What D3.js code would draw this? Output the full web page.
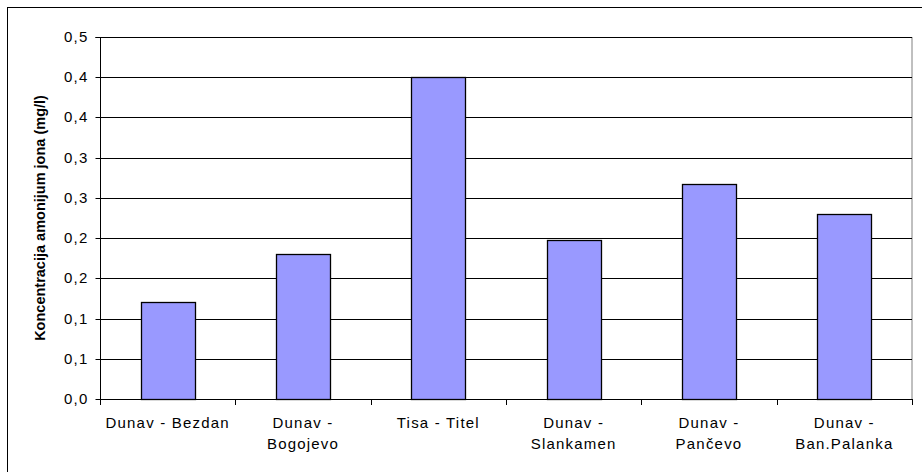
<!DOCTYPE html>
<html><head><meta charset="utf-8">
<script src="https://cdn.jsdelivr.net/npm/d3@7"></script>
<style>html,body{margin:0;padding:0;background:#fff;}svg{display:block;}</style>
</head><body>
<svg id="chart" width="922" height="472"></svg>
<script>
const categories = ["Dunav - Bezdan","Dunav - Bogojevo","Tisa - Titel","Dunav - Slankamen","Dunav - Pančevo","Dunav - Ban.Palanka"];
const categoryLines = [["Dunav - Bezdan"],["Dunav -","Bogojevo"],["Tisa - Titel"],["Dunav -","Slankamen"],["Dunav -","Pančevo"],["Dunav -","Ban.Palanka"]];
const values = [0.12, 0.18, 0.40, 0.198, 0.267, 0.23];
const yTickValues = [0,0.05,0.10,0.15,0.20,0.25,0.30,0.35,0.40,0.45];
const yTickLabels = ["0,0","0,1","0,1","0,2","0,2","0,3","0,3","0,4","0,4","0,5"];
const yTitle = "Koncentracija amonijum jona (mg/l)";

const svg = d3.select("#chart");
const font = "'Liberation Sans', Arial, sans-serif";
const L = 100, R = 912, T = 37, B = 399;

// outer frame (top & left visible)
svg.append("rect").attr("x",7.5).attr("y",7.5).attr("width",940).attr("height",500)
  .attr("fill","none").attr("stroke","#000").attr("stroke-width",1);

const y = d3.scaleLinear().domain([0,0.45]).range([B,T]);
const x = d3.scaleBand().domain(categories).range([L,R]).paddingInner(0).paddingOuter(0);

// plot area border
svg.append("rect").attr("x",L+0.5).attr("y",T+0.5).attr("width",R-L-0.5).attr("height",B-T)
  .attr("fill","none").attr("stroke","#808080");

// gridlines
svg.append("g").selectAll("line").data(yTickValues.filter(v=>v>0)).join("line")
  .attr("x1",L).attr("x2",R).attr("y1",d=>Math.round(y(d))+0.5).attr("y2",d=>Math.round(y(d))+0.5)
  .attr("stroke","#000").attr("stroke-width",1);

// bars
const bw = x.bandwidth()*0.4;
svg.append("g").selectAll("rect").data(categories).join("rect")
  .attr("x",(d)=>Math.round(x(d)+x.bandwidth()/2-bw/2)+0.5)
  .attr("y",(d,i)=>Math.round(y(values[i]))+0.5)
  .attr("width",Math.round(bw))
  .attr("height",(d,i)=>Math.round(y(0))-Math.round(y(values[i])))
  .attr("fill","#9999FF").attr("stroke","#000").attr("stroke-width",1.3);

// y axis
const yAxis = d3.axisLeft(y).tickValues(yTickValues).tickFormat((d,i)=>yTickLabels[i]).tickSize(5).tickPadding(7);
const gy = svg.append("g").attr("transform",`translate(${L+0.5},0.5)`).call(yAxis);
gy.select(".domain").attr("d",`M-5,${T}H0V${B+5}`).attr("stroke","#000");
gy.selectAll(".tick line").attr("stroke","#000");
gy.selectAll(".tick text").attr("font-family",font).attr("font-size","15px").attr("letter-spacing","1.2px").attr("fill","#000");
gy.selectAll(".tick").attr("transform",d=>`translate(0,${Math.round(y(d))})`);

// x axis
const bounds = categories.map(c=>x(c)).concat([R]);
const gx = svg.append("g");
gx.append("line").attr("x1",L).attr("x2",R+0.5).attr("y1",B+0.5).attr("y2",B+0.5).attr("stroke","#000");
gx.selectAll("line.tk").data(bounds).join("line").attr("class","tk")
  .attr("x1",d=>Math.round(d)+0.5).attr("x2",d=>Math.round(d)+0.5).attr("y1",B).attr("y2",B+6).attr("stroke","#000");
const labels = gx.selectAll("text.xl").data(categories).join("text").attr("class","xl")
  .attr("x",d=>x(d)+x.bandwidth()/2).attr("y",428)
  .attr("text-anchor","middle").attr("font-family",font).attr("font-size","15px").attr("letter-spacing","1.2px").attr("fill","#000");
labels.each(function(d,i){
  const t = d3.select(this);
  categoryLines[i].forEach((ln,j)=>{
    t.append("tspan").attr("x",x(d)+x.bandwidth()/2).attr("y",428+j*21).text(ln);
  });
});

// y title
svg.append("text").attr("transform",`translate(45,${(T+B)/2}) rotate(-90)`)
  .attr("text-anchor","middle").attr("font-family",font).attr("font-size","14.5px").attr("font-weight","bold")
  .attr("fill","#000").text(yTitle);
</script>
</body></html>
